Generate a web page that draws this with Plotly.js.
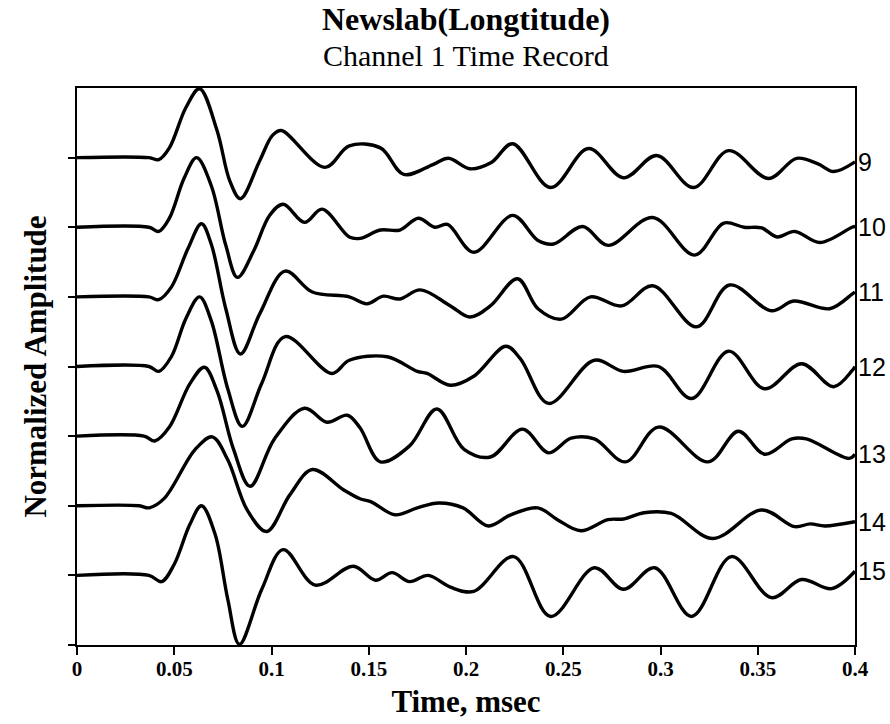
<!DOCTYPE html>
<html>
<head>
<meta charset="utf-8">
<script src="https://cdn.plot.ly/plotly-3.0.1.min.js"></script>
<style>html,body{margin:0;padding:0;background:#fff;}#chart{width:890px;height:724px;}</style>
</head>
<body>
<div id="chart"></div>
<script>
// Channel numbers (top to bottom) and stacking offsets
const channels = [9, 10, 11, 12, 13, 14, 15];
const offsets  = [7, 6, 5, 4, 3, 2, 1];

// Time samples (msec) and normalized amplitudes
const t9  = [0, 0.037, 0.042, 0.0475, 0.056, 0.063, 0.072, 0.0785, 0.084, 0.094, 0.1005, 0.105, 0.1275, 0.140, 0.156, 0.168, 0.183, 0.191, 0.202, 0.213, 0.224, 0.2435, 0.263, 0.281, 0.298, 0.317, 0.335, 0.3555, 0.370, 0.381, 0.389, 0.400];
const a9  = [0, 0, -0.03, 0.14, 0.72, 0.99, 0.39, -0.33, -0.59, -0.04, 0.32, 0.39, -0.14, 0.17, 0.14, -0.24, -0.10, -0.01, -0.16, -0.07, 0.20, -0.43, 0.13, -0.29, 0.03, -0.43, 0.10, -0.30, -0.01, -0.09, -0.20, -0.06];

const t10 = [0, 0.037, 0.042, 0.0475, 0.055, 0.0615, 0.069, 0.0765, 0.0825, 0.091, 0.099, 0.106, 0.117, 0.126, 0.140, 0.1455, 0.156, 0.166, 0.1755, 0.184, 0.1905, 0.204, 0.224, 0.237, 0.245, 0.260, 0.273, 0.296, 0.3175, 0.3325, 0.343, 0.352, 0.360, 0.369, 0.382, 0.3985, 0.400];
const a10 = [0, 0, -0.06, 0.13, 0.70, 1.0, 0.60, -0.26, -0.72, -0.33, 0.17, 0.33, 0.07, 0.26, -0.14, -0.16, -0.04, -0.04, 0.13, 0, 0.04, -0.36, 0.17, -0.19, -0.24, 0.01, -0.26, 0.14, -0.40, 0.06, 0, -0.01, -0.14, -0.06, -0.22, 0, 0.01];

const t11 = [0, 0.037, 0.042, 0.0485, 0.057, 0.064, 0.069, 0.0765, 0.084, 0.094, 0.107, 0.121, 0.140, 0.149, 0.1575, 0.166, 0.1765, 0.192, 0.202, 0.2125, 0.2265, 0.237, 0.249, 0.264, 0.280, 0.296, 0.3185, 0.3355, 0.357, 0.3685, 0.387, 0.3985, 0.400];
const a11 = [0, 0, -0.04, 0.14, 0.69, 1.05, 0.76, -0.17, -0.82, -0.24, 0.37, 0.07, 0, -0.10, 0.01, -0.03, 0.10, -0.13, -0.29, -0.13, 0.26, -0.17, -0.32, 0, -0.13, 0.16, -0.43, 0.17, -0.20, -0.06, -0.17, 0.04, 0.07];

const t12 = [0, 0.037, 0.042, 0.0485, 0.056, 0.063, 0.069, 0.0775, 0.085, 0.095, 0.107, 0.131, 0.140, 0.1595, 0.175, 0.180, 0.192, 0.204, 0.2205, 0.228, 0.2425, 0.266, 0.281, 0.299, 0.316, 0.335, 0.3535, 0.3725, 0.389, 0.3985, 0.400];
const a12 = [0, 0, -0.07, 0.14, 0.69, 1.0, 0.66, -0.32, -0.86, -0.24, 0.43, -0.10, 0.09, 0.14, -0.07, -0.10, -0.27, -0.14, 0.29, 0.11, -0.53, 0.09, -0.07, 0, -0.46, 0.22, -0.32, 0.04, -0.29, -0.06, 0];

const t13 = [0, 0.0345, 0.040, 0.0475, 0.058, 0.0655, 0.072, 0.0805, 0.089, 0.1015, 0.117, 0.1285, 0.139, 0.1455, 0.156, 0.171, 0.185, 0.199, 0.2125, 0.229, 0.2425, 0.254, 0.266, 0.282, 0.299, 0.3245, 0.340, 0.3535, 0.3675, 0.375, 0.397, 0.400];
const a13 = [0, 0, -0.07, 0.13, 0.75, 0.99, 0.65, -0.19, -0.72, -0.04, 0.40, 0.20, 0.30, 0.12, -0.37, -0.14, 0.39, -0.19, -0.30, 0.10, -0.24, -0.03, -0.04, -0.37, 0.13, -0.37, 0.07, -0.26, -0.04, -0.04, -0.32, -0.26];

const t14 = [0, 0.032, 0.037, 0.045, 0.0605, 0.0695, 0.0775, 0.0875, 0.0975, 0.1095, 0.121, 0.137, 0.1455, 0.151, 0.1635, 0.175, 0.186, 0.1985, 0.2115, 0.223, 0.237, 0.247, 0.259, 0.273, 0.281, 0.2915, 0.3055, 0.327, 0.352, 0.369, 0.377, 0.3845, 0.400];
const a14 = [0, 0, -0.03, 0.11, 0.80, 0.99, 0.66, -0.06, -0.37, 0.16, 0.52, 0.23, 0.10, 0.06, -0.13, -0.03, 0.04, -0.03, -0.29, -0.13, -0.03, -0.20, -0.36, -0.20, -0.19, -0.10, -0.11, -0.47, -0.06, -0.30, -0.26, -0.29, -0.23];

const t15 = [0, 0.037, 0.0435, 0.050, 0.058, 0.064, 0.071, 0.0775, 0.0835, 0.095, 0.106, 0.1225, 0.142, 0.1535, 0.162, 0.171, 0.1805, 0.192, 0.204, 0.2245, 0.2435, 0.266, 0.281, 0.297, 0.316, 0.3365, 0.357, 0.3725, 0.388, 0.400];
const a15 = [0, 0, -0.09, 0.16, 0.73, 1.0, 0.59, -0.34, -0.99, -0.20, 0.37, -0.14, 0.13, -0.07, 0.04, -0.09, 0, -0.17, -0.23, 0.27, -0.59, 0.11, -0.20, 0.11, -0.59, 0.27, -0.32, -0.06, -0.19, 0.06];

const xTickVals   = [0, 0.05, 0.1, 0.15, 0.2, 0.25, 0.3, 0.35, 0.4];
const xTickLabels = ['0', '0.05', '0.1', '0.15', '0.2', '0.25', '0.3', '0.35', '0.4'];
const yTickVals   = [0, 1, 2, 3, 4, 5, 6, 7];

const times = [t9, t10, t11, t12, t13, t14, t15];
const amps  = [a9, a10, a11, a12, a13, a14, a15];

const serif = 'Liberation Serif, Times New Roman, serif';
const sans  = 'Liberation Sans, Arial, Helvetica, sans-serif';

const traces = channels.map((ch, i) => ({
  type: 'scatter',
  mode: 'lines',
  x: times[i],
  y: amps[i].map(v => v + offsets[i]),
  line: {color: '#000', width: 3.4, shape: 'spline', smoothing: 1},
  hoverinfo: 'skip',
  showlegend: false
}));

const annotations = channels.map((ch, i) => ({
  xref: 'paper', yref: 'y',
  x: 1, y: amps[i][amps[i].length - 1] + offsets[i],
  xanchor: 'left', yanchor: 'middle', xshift: 1,
  text: String(ch), showarrow: false,
  font: {family: sans, size: 25, color: '#000'}
}));

annotations.push({
  xref: 'paper', yref: 'paper', x: 0.5, y: 1, yshift: 33,
  xanchor: 'center', yanchor: 'middle',
  text: 'Channel 1 Time Record', showarrow: false,
  font: {family: serif, size: 30, color: '#000'}
});

const layout = {
  width: 890, height: 724,
  paper_bgcolor: '#fff', plot_bgcolor: '#fff',
  margin: {l: 77, r: 35, t: 88, b: 79},
  title: {
    text: 'Newslab(Longtitude)',
    x: 0.5, xref: 'paper', xanchor: 'center',
    y: 0.9737, yref: 'container', yanchor: 'middle',
    font: {family: serif, size: 32, weight: 700, color: '#000'}
  },
  xaxis: {
    range: [0, 0.4],
    tickvals: xTickVals, ticktext: xTickLabels,
    ticks: 'outside', ticklen: 8, tickwidth: 2, tickcolor: '#000',
    ticklabelstandoff: -4,
    showline: true, linewidth: 2, linecolor: '#000', mirror: true,
    showgrid: false, zeroline: false,
    tickfont: {family: serif, size: 21, weight: 700, color: '#000'},
    title: {text: 'Time, msec', standoff: 10,
            font: {family: serif, size: 31, weight: 700, color: '#000'}}
  },
  yaxis: {
    range: [0, 8], tickvals: yTickVals,
    ticks: 'outside', ticklen: 7, tickwidth: 2, tickcolor: '#000',
    showticklabels: false,
    showline: true, linewidth: 2, linecolor: '#000', mirror: true,
    showgrid: false, zeroline: false,
    title: {text: 'Normalized Amplitude', standoff: 12,
            font: {family: serif, size: 31, weight: 700, color: '#000'}}
  },
  annotations: annotations
};

Plotly.newPlot('chart', traces, layout, {displayModeBar: false, staticPlot: true});
</script>
</body>
</html>
